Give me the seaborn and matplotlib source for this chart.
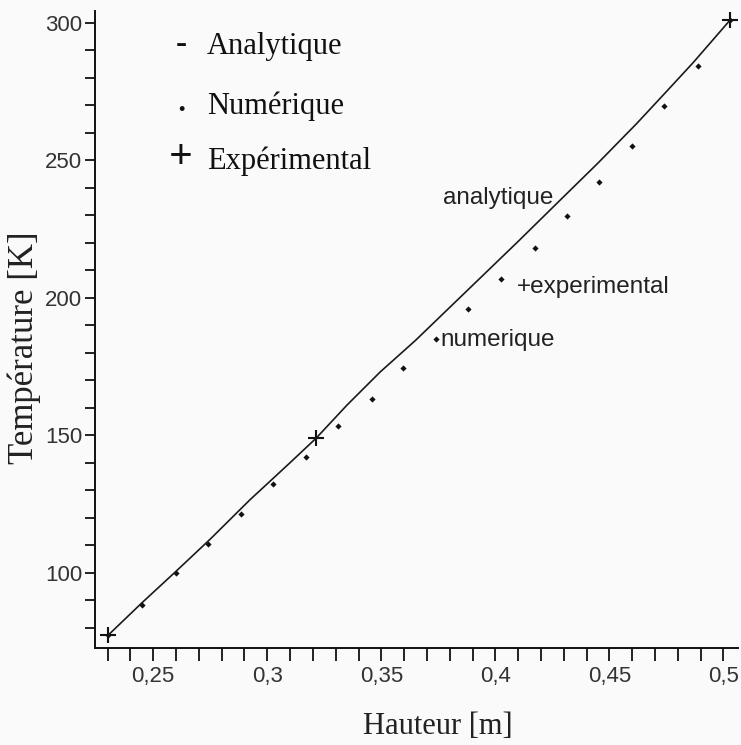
import matplotlib
matplotlib.use("Agg")
import matplotlib.pyplot as plt
import matplotlib.ticker as mticker
import seaborn as sns
import pandas as pd

# ---- data ----
ana_x = [0.2303, 0.2450, 0.2600, 0.2750, 0.2924, 0.3100, 0.3214, 0.3350, 0.3495,
         0.3650, 0.3800, 0.3950, 0.4100, 0.4284, 0.4450, 0.4620, 0.4750, 0.4868,
         0.5029]
ana_y = [77.3, 89.0, 100.5, 112.2, 126.5, 140.0, 148.9, 161.0, 173.0,
         184.5, 196.5, 208.5, 220.5, 235.5, 249.0, 263.4, 275.0, 285.6,
         301.0]

num_x = [0.2303, 0.2449, 0.2598, 0.2741, 0.2883, 0.3024, 0.3168, 0.3309, 0.3458,
         0.3597, 0.3740, 0.3882, 0.4024, 0.4174, 0.4313, 0.4455, 0.4598, 0.4740,
         0.4890, 0.5029]
num_y = [77.3, 88.3, 99.8, 110.5, 121.3, 132.3, 142.2, 153.3, 163.2,
         174.3, 184.9, 195.8, 206.8, 218.0, 229.8, 242.0, 255.3, 269.7,
         284.4, 301.0]

exp_x = [0.2303, 0.3214, 0.5029]
exp_y = [77.3, 148.9, 301.0]

xtick_vals = [0.25, 0.30, 0.35, 0.40, 0.45, 0.50]
xtick_labels = ["0,25", "0,3", "0,35", "0,4", "0,45", "0,5"]
ytick_vals = [100, 150, 200, 250, 300]

legend_labels = ["Analytique", "Numérique", "Expérimental"]
legend_marks = ["-", "•", "+"]

# ---- style ----
sns.set_style("ticks")
plt.rcParams["font.family"] = ["Liberation Sans", "DejaVu Sans"]
bg = "#fafafb"

fig = plt.figure(figsize=(7.41, 7.45), dpi=100, facecolor=bg)
ax = fig.add_axes([0.128, 0.1306, 0.868, 0.8546])
ax.set_facecolor(bg)

df_a = pd.DataFrame({"x": ana_x, "y": ana_y})
df_n = pd.DataFrame({"x": num_x, "y": num_y})
df_e = pd.DataFrame({"x": exp_x, "y": exp_y})

sns.lineplot(data=df_a, x="x", y="y", ax=ax, color="#1a1a1a", linewidth=1.2,
             sort=False, estimator=None)
sns.scatterplot(data=df_n, x="x", y="y", ax=ax, color="#111111", marker="D",
                s=10, linewidth=0)
sns.scatterplot(data=df_e, x="x", y="y", ax=ax, color="#111111", marker="+",
                s=120, linewidth=1.5)

ax.set_xlim(0.2244, 0.5064)
ax.set_ylim(72.7, 304.3)

ax.xaxis.set_major_locator(mticker.FixedLocator(xtick_vals))
ax.xaxis.set_major_formatter(mticker.FixedFormatter(xtick_labels))
ax.xaxis.set_minor_locator(mticker.MultipleLocator(0.01))
ax.yaxis.set_major_locator(mticker.FixedLocator(ytick_vals))
ax.yaxis.set_minor_locator(mticker.MultipleLocator(10))

ax.tick_params(axis="both", which="both", direction="out", color="#111111",
               width=1.3)
ax.tick_params(axis="x", which="both", length=9, pad=4)
ax.tick_params(axis="y", which="both", length=7, pad=2)
ax.tick_params(axis="both", which="major", labelsize=16, labelcolor="#333333")

for s in ["top", "right"]:
    ax.spines[s].set_visible(False)
for s in ["left", "bottom"]:
    ax.spines[s].set_color("#111111")
    ax.spines[s].set_linewidth(1.4)

ax.set_xlabel("Hauteur [m]", family=["Liberation Serif"], fontsize=22,
              color="#222222")
ax.xaxis.set_label_coords(0.533, -0.1245)
ax.xaxis.label.set_va("center")
ax.set_ylabel("Température [K]", family=["Liberation Serif"], fontsize=25,
              color="#222222")
ax.yaxis.set_label_coords(-0.109, 0.4715)
ax.yaxis.label.set_va("center")
ax.yaxis.label.set_ha("center")

# legend-like texts (serif)
ys = [46.7, 106, 161.7]
mark_sizes = [24, 13, 30]
mark_ys = [44.5, 110.5, 157.5]
for mark, lab, yy, ms, my in zip(legend_marks, legend_labels, ys, mark_sizes, mark_ys):
    fig.text(181 / 741, 1 - my / 745, mark, family=["Liberation Serif"],
             fontsize=ms, ha="center", va="center", color="#111111",
             fontweight="bold")
    fig.text(207 / 741, 1 - yy / 745, lab, family=["Liberation Serif"],
             fontsize=22, ha="left", va="center", color="#111111")

# in-plot annotations (sans)
ax.text(0.3771, 236.3, "analytique", fontsize=17.5, ha="left", va="center",
        color="#222222")
ax.text(0.4094, 204.0, "+experimental", fontsize=17.5, ha="left", va="center",
        color="#222222")
ax.text(0.3758, 184.5, "numerique", fontsize=17.5, ha="left", va="center",
        color="#222222")

fig.savefig("out.png", dpi=100, facecolor=bg)
